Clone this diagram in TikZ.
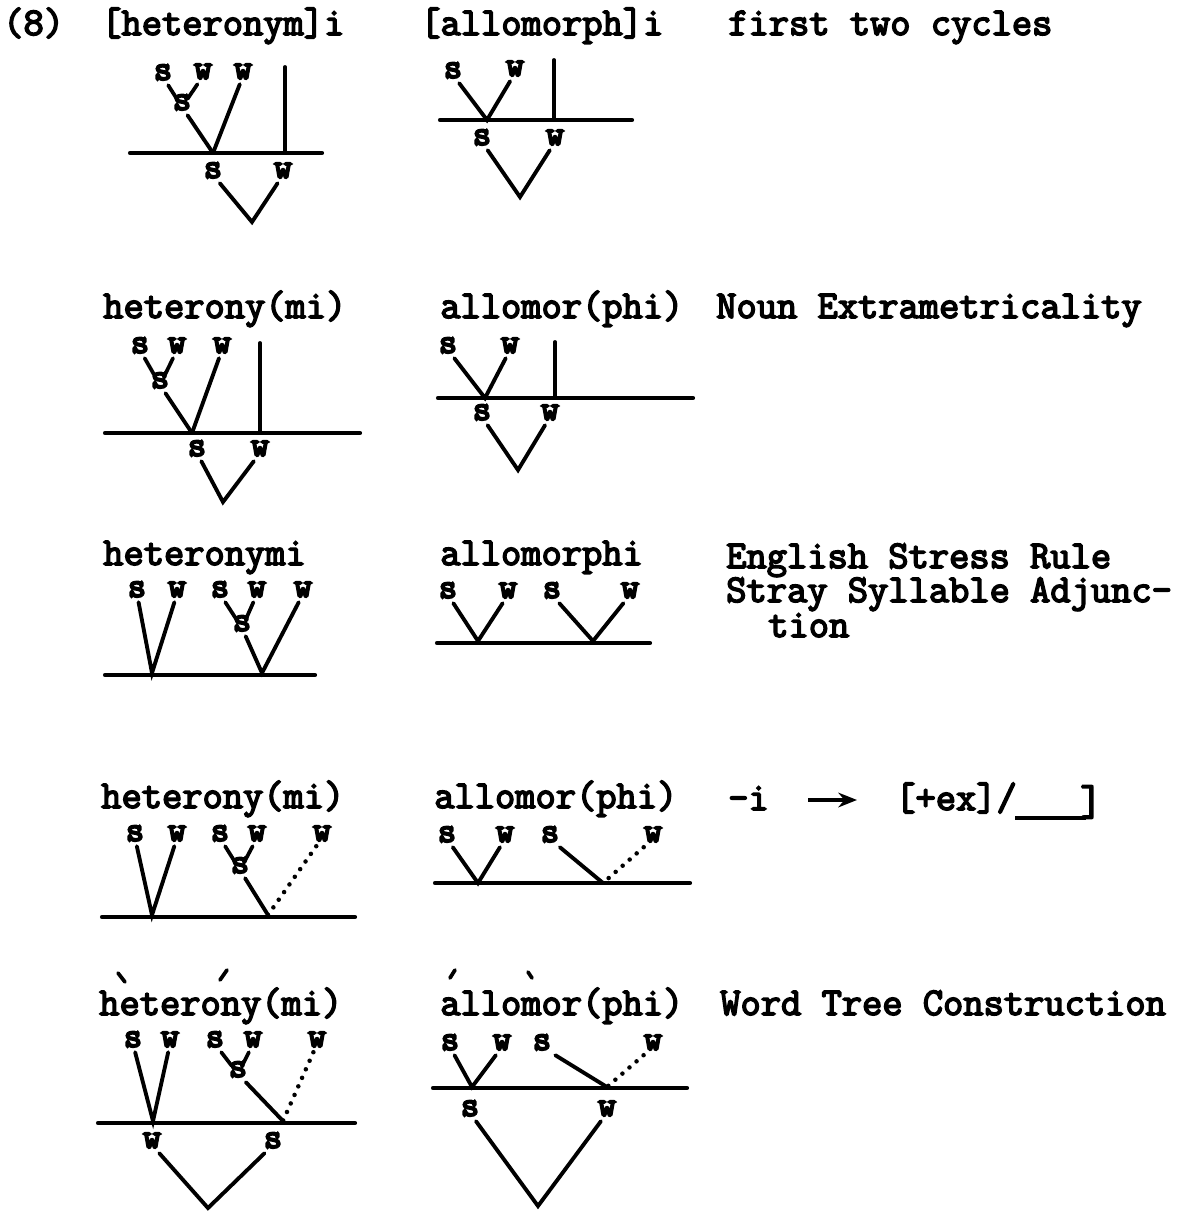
\documentclass[tikz,border=0pt]{standalone}
\usepackage{fontspec}
\newfontfamily\tw{Latin Modern Mono}[FakeBold=4]
\newfontfamily\twl{Latin Modern Mono}[FakeBold=6]
\usetikzlibrary{arrows.meta}
\tikzset{
  txt/.style={anchor=base west, inner sep=0pt, font=\tw\fontsize{29.5}{34}\selectfont},
  lbl/.style={inner sep=0pt, outer sep=4pt, text height=1ex, text depth=0pt, font=\twl\fontsize{26}{26}\selectfont},
  br/.style={line width=2.9pt, line cap=round},
  hl/.style={line width=3.1pt, line cap=round},
  dsh/.style={line width=2.8pt, line cap=round},
  dotl/.style={line width=3.4pt, line cap=round, dash pattern=on 0pt off 7pt},
  acc/.style={line width=2.8pt, line cap=round}
}
\begin{document}
\begin{tikzpicture}[x=0.75pt,y=-0.75pt]
\useasboundingbox (0,0) rectangle (1199,1214);
% ---------- Row 1 ----------
\node[txt] (num) at (3,35) {(8)};
\node[txt] (t1a) at (101,35) {[heteronym]i};
\node[txt] (t1b) at (420,35) {[allomorph]i};
\node[txt] (t1c) at (728,35) {first two cycles};
% left tree
\node[lbl] (r1s) at (163,77) {s};
\node[lbl] (r1w) at (203,76) {w};
\node[lbl] (r1W) at (243,76) {w};
\node[lbl] (r1ls) at (182,107) {s};
\coordinate (r1j) at (213,153);
\coordinate (r1vt) at (285,67);
\coordinate (r1vb) at (285,153);
\coordinate (r1hl) at (130,153);
\coordinate (r1hr) at (322,153);
\draw[dsh] (r1s) -- (r1ls);
\draw[dsh] (r1w) -- (r1ls);
\draw[br] (r1ls) -- (r1j);
\draw[br] (r1W) -- (r1j);
\draw[br] (r1vt) -- (r1vb);
\draw[hl] (r1hl) -- (r1hr);
\node[lbl] (r1bs) at (213,175) {s};
\node[lbl] (r1bw) at (283,175) {w};
\coordinate (r1ap) at (252,222);
\draw[br] (r1bs) -- (r1ap) -- (r1bw);
% middle tree
\node[lbl] (m1s) at (453,75) {s};
\node[lbl] (m1w) at (515,73) {w};
\coordinate (m1j) at (487,120);
\coordinate (m1vt) at (554,60);
\coordinate (m1vb) at (554,120);
\coordinate (m1hl) at (440,120);
\coordinate (m1hr) at (632,120);
\draw[br] (m1s) -- (m1j) -- (m1w);
\draw[br] (m1vt) -- (m1vb);
\draw[hl] (m1hl) -- (m1hr);
\node[lbl] (m1bs) at (482,142) {s};
\node[lbl] (m1bw) at (555,142) {w};
\coordinate (m1ap) at (520,197);
\draw[br] (m1bs) -- (m1ap) -- (m1bw);
% ---------- Row 2 ----------
\node[txt] (t2a) at (103,318) {heterony(mi)};
\node[txt] (t2b) at (440,318) {allomor(phi)};
\node[txt] (t2c) at (716,318) {Noun Extrametricality};
\node[lbl] (r2s) at (140,350) {s};
\node[lbl] (r2w) at (177,350) {w};
\node[lbl] (r2W) at (222,350) {w};
\node[lbl] (r2ls) at (160,385) {s};
\coordinate (r2j) at (192,433);
\coordinate (r2vt) at (260,343);
\coordinate (r2vb) at (260,433);
\coordinate (r2hl) at (105,433);
\coordinate (r2hr) at (360,433);
\draw[dsh] (r2s) -- (r2ls);
\draw[dsh] (r2w) -- (r2ls);
\draw[br] (r2ls) -- (r2j);
\draw[br] (r2W) -- (r2j);
\draw[br] (r2vt) -- (r2vb);
\draw[hl] (r2hl) -- (r2hr);
\node[lbl] (r2bs) at (197,453) {s};
\node[lbl] (r2bw) at (260,453) {w};
\coordinate (r2ap) at (223,502);
\draw[br] (r2bs) -- (r2ap) -- (r2bw);
\node[lbl] (m2s) at (448,350) {s};
\node[lbl] (m2w) at (510,350) {w};
\coordinate (m2j) at (485,398);
\coordinate (m2vt) at (555,342);
\coordinate (m2vb) at (555,398);
\coordinate (m2hl) at (438,398);
\coordinate (m2hr) at (693,398);
\draw[br] (m2s) -- (m2j) -- (m2w);
\draw[br] (m2vt) -- (m2vb);
\draw[hl] (m2hl) -- (m2hr);
\node[lbl] (m2bs) at (482,417) {s};
\node[lbl] (m2bw) at (550,417) {w};
\coordinate (m2ap) at (518,470);
\draw[br] (m2bs) -- (m2ap) -- (m2bw);
% ---------- Row 3 ----------
\node[txt] (t3a) at (103,565) {heteronymi};
\node[txt] (t3b) at (440,565) {allomorphi};
\node[txt] (t3c) at (726,568) {English Stress Rule};
\node[txt] (t3d) at (726,602) {Stray Syllable Adjunc-};
\node[txt] (t3e) at (768,637) {tion};
\node[lbl] (r3s1) at (137,594) {s};
\node[lbl] (r3w1) at (177,594) {w};
\node[lbl] (r3s2) at (220,594) {s};
\node[lbl] (r3w2) at (257,594) {w};
\node[lbl] (r3w3) at (303,594) {w};
\node[lbl] (r3ls) at (242,628) {s};
\coordinate (r3j1) at (152,673);
\coordinate (r3j2) at (262,673);
\coordinate (r3hl) at (105,675);
\coordinate (r3hr) at (315,675);
\draw[br] (r3s1) -- (r3j1) -- (r3w1);
\draw[dsh] (r3s2) -- (r3ls);
\draw[dsh] (r3w2) -- (r3ls);
\draw[br] (r3ls) -- (r3j2) -- (r3w3);
\draw[hl] (r3hl) -- (r3hr);
\node[lbl] (m3s1) at (448,595) {s};
\node[lbl] (m3w1) at (508,595) {w};
\node[lbl] (m3s2) at (552,595) {s};
\node[lbl] (m3w2) at (630,595) {w};
\coordinate (m3j1) at (478,641);
\coordinate (m3j2) at (593,641);
\coordinate (m3hl) at (437,643);
\coordinate (m3hr) at (650,643);
\draw[br] (m3s1) -- (m3j1) -- (m3w1);
\draw[br] (m3s2) -- (m3j2) -- (m3w2);
\draw[hl] (m3hl) -- (m3hr);
% ---------- Row 4 ----------
\node[txt] (t4a) at (101,808) {heterony(mi)};
\node[txt] (t4b) at (434,808) {allomor(phi)};
\node[txt] (t4c) at (728,810) {-i};
\coordinate (arS) at (808,800);
\coordinate (arE) at (857,800);
\draw[line width=2.8pt, -{Stealth[length=14pt,width=11pt]}] (arS) -- (arE);
\node[txt] (t4d) at (895,810) {[+ex]/};
\coordinate (ulS) at (1015,818);
\coordinate (ulE) at (1086,818);
\draw[line width=2.6pt] (ulS) -- (ulE);
\node[txt] (t4e) at (1080,815) {\fontsize{32}{34}\selectfont]};
\node[lbl] (r4s1) at (135,838) {s};
\node[lbl] (r4w1) at (177,838) {w};
\node[lbl] (r4s2) at (220,838) {s};
\node[lbl] (r4w2) at (257,838) {w};
\node[lbl] (r4w3) at (322,838) {w};
\node[lbl] (r4ls) at (240,870) {s};
\coordinate (r4j1) at (152,915);
\coordinate (r4j2) at (268,915);
\coordinate (r4hl) at (102,917);
\coordinate (r4hr) at (355,917);
\draw[br] (r4s1) -- (r4j1) -- (r4w1);
\draw[dsh] (r4s2) -- (r4ls);
\draw[dsh] (r4w2) -- (r4ls);
\draw[br] (r4ls) -- (r4j2);
\draw[dotl] (r4w3) -- (r4j2);
\draw[hl] (r4hl) -- (r4hr);
\node[lbl] (m4s1) at (447,839) {s};
\node[lbl] (m4w1) at (505,839) {w};
\node[lbl] (m4s2) at (550,839) {s};
\node[lbl] (m4w2) at (653,839) {w};
\coordinate (m4j1) at (478,883);
\coordinate (m4j2) at (603,883);
\coordinate (m4hl) at (435,883);
\coordinate (m4hr) at (690,883);
\draw[br] (m4s1) -- (m4j1) -- (m4w1);
\draw[br] (m4s2) -- (m4j2);
\draw[dotl] (m4w2) -- (m4j2);
\draw[hl] (m4hl) -- (m4hr);
% ---------- Row 5 ----------
\node[txt] (t5a) at (99,1015) {heterony(mi)};
\node[txt] (t5b) at (440,1015) {allomor(phi)};
\node[txt] (t5c) at (720,1015) {Word Tree Construction};
\coordinate (ac1a) at (118,973); \coordinate (ac1b) at (125,982);
\coordinate (ac2a) at (227,970); \coordinate (ac2b) at (220,980);
\coordinate (ac3a) at (455,970); \coordinate (ac3b) at (450,978);
\coordinate (ac4a) at (528,972); \coordinate (ac4b) at (532,978);
\draw[acc] (ac1a) -- (ac1b);
\draw[acc] (ac2a) -- (ac2b);
\draw[acc] (ac3a) -- (ac3b);
\draw[acc] (ac4a) -- (ac4b);
\node[lbl] (r5s1) at (133,1044) {s};
\node[lbl] (r5w1) at (170,1044) {w};
\node[lbl] (r5s2) at (215,1044) {s};
\node[lbl] (r5w2) at (253,1044) {w};
\node[lbl] (r5w3) at (317,1044) {w};
\node[lbl] (r5ls) at (238,1074) {s};
\coordinate (r5j1) at (153,1121);
\coordinate (r5j2) at (283,1121);
\coordinate (r5hl) at (98,1123);
\coordinate (r5hr) at (355,1123);
\draw[br] (r5s1) -- (r5j1) -- (r5w1);
\draw[dsh] (r5s2) -- (r5ls);
\draw[dsh] (r5w2) -- (r5ls);
\draw[br] (r5ls) -- (r5j2);
\draw[dotl] (r5w3) -- (r5j2);
\draw[hl] (r5hl) -- (r5hr);
\node[lbl] (r5bw) at (152,1145) {w};
\node[lbl] (r5bs) at (273,1145) {s};
\coordinate (r5ap) at (208,1208);
\draw[br] (r5bw) -- (r5ap) -- (r5bs);
\node[lbl] (m5s1) at (450,1047) {s};
\node[lbl] (m5w1) at (502,1047) {w};
\node[lbl] (m5s2) at (542,1047) {s};
\node[lbl] (m5w2) at (653,1047) {w};
\coordinate (m5j1) at (472,1087);
\coordinate (m5j2) at (607,1087);
\coordinate (m5hl) at (433,1088);
\coordinate (m5hr) at (687,1088);
\draw[br] (m5s1) -- (m5j1) -- (m5w1);
\draw[br] (m5s2) -- (m5j2);
\draw[dotl] (m5w2) -- (m5j2);
\draw[hl] (m5hl) -- (m5hr);
\node[lbl] (m5bs) at (470,1113) {s};
\node[lbl] (m5bw) at (607,1113) {w};
\coordinate (m5ap) at (538,1206);
\draw[br] (m5bs) -- (m5ap) -- (m5bw);
\end{tikzpicture}
\end{document}
